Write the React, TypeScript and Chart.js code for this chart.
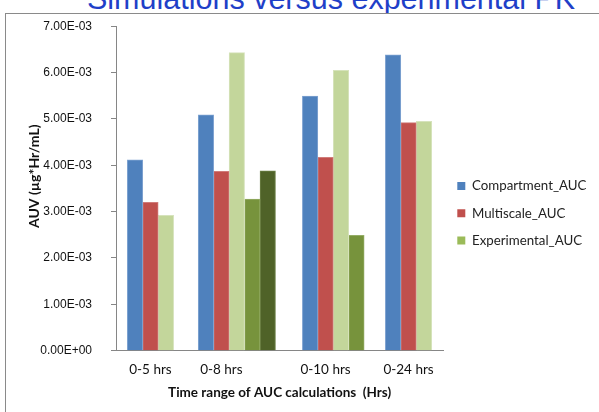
import React, { useEffect, useRef } from "react";
import { Chart, registerables } from "chart.js";

Chart.register(...registerables);

// ---- data ----
const categories = ["0-5 hrs", "0-8 hrs", "0-10 hrs", "0-24 hrs"];
const compartmentAUC = [4.12e-3, 5.09e-3, 5.49e-3, 6.38e-3];
const multiscaleAUC = [3.2e-3, 3.87e-3, 4.17e-3, 4.92e-3];
const experimentalAUC = [2.92e-3, 6.43e-3, 6.05e-3, 4.95e-3];
const experimentalExtraA = [null, 3.27e-3, 2.49e-3, null];
const experimentalExtraB = [null, 3.88e-3, null, null];
const seriesNames = ["Compartment_AUC", "Multiscale_AUC", "Experimental_AUC"];
const yMin = 0;
const yMax = 7e-3;
const yStep = 1e-3;

// ---- layout (bar slots along the category axis) ----
const groupOffsets = [0.73, 5.32, 12.06, 17.43];
const axisSlots = 21.18;

const barColors = ["#4F81BD", "#C0504D", "#C3D69B", "#77933C", "#4F6228"];
const barBorders = ["#7FA3D1", "#D07C7A", "#D6E3BC", "#95AD66", "#6E8248"];
const legendColors = ["#4F81BD", "#C0504D", "#9BBB59"];

function sci(v: number): string {
  if (Math.abs(v) < 1e-12) return "0.00E+00";
  let e = Math.floor(Math.log10(Math.abs(v)) + 1e-9);
  let s = (v / Math.pow(10, e)).toFixed(2);
  if (s === "10.00") {
    e += 1;
    s = (v / Math.pow(10, e)).toFixed(2);
  }
  return s + "E" + (e < 0 ? "-" : "+") + String(Math.abs(e)).padStart(2, "0");
}

function toPoints(values: (number | null)[], slot: number) {
  const pts: { x: number; y: number }[] = [];
  values.forEach((v, c) => {
    if (v !== null && v !== undefined) pts.push({ x: groupOffsets[c] + slot + 0.5, y: v });
  });
  return pts;
}

export default function App() {
  const canvasRef = useRef<HTMLCanvasElement | null>(null);

  useEffect(() => {
    if (!canvasRef.current) return;
    const series = [compartmentAUC, multiscaleAUC, experimentalAUC, experimentalExtraA, experimentalExtraB];
    const datasets = series.map((vals, s) => ({
      label: seriesNames[s] ?? "",
      data: toPoints(vals, s),
      backgroundColor: barColors[s],
      borderColor: barBorders[s],
      borderWidth: 1,
      grouped: false,
      barPercentage: 1,
      categoryPercentage: 1,
    }));

    const chart = new Chart(canvasRef.current, {
      type: "bar",
      data: { datasets } as any,
      options: {
        responsive: false,
        animation: false,
        events: [],
        layout: { padding: { left: 6, top: 23.5, right: 3, bottom: 9 } },
        plugins: {
          tooltip: { enabled: false },
          legend: {
            position: "right",
            align: "center",
            maxWidth: 152.7,
            labels: {
              boxWidth: 8,
              boxHeight: 8,
              padding: 14,
              color: "#222",
              font: { family: "Lato", size: 13.3 },
              generateLabels: (ch: any) => {
                const items = (Chart as any).defaults.plugins.legend.labels.generateLabels(ch);
                return items.slice(0, 3).map((it: any, i: number) => ({
                  ...it,
                  fillStyle: legendColors[i],
                  strokeStyle: legendColors[i],
                  lineWidth: 0,
                }));
              },
            },
          },
        },
        scales: {
          x: {
            type: "linear",
            min: 0,
            max: axisSlots,
            offset: false,
            grid: { display: true, drawOnChartArea: false, drawTicks: false, color: "#868686" },
            border: { display: true, color: "#868686", width: 1 },
            afterBuildTicks: (scale: any) => {
              scale.ticks = categories.map((_, i) => ({ value: groupOffsets[i] + 1.5 }));
            },
            afterFit: (scale: any) => {
              scale.height = 52.3;
            },
            ticks: {
              autoSkip: false,
              maxRotation: 0,
              padding: 11,
              color: "#111",
              font: { family: "Lato", size: 13.5 },
              callback: (_v: any, i: number) => categories[i],
            },
            title: {
              display: true,
              text: "Time range of AUC calculations  (Hrs)",
              color: "#111",
              font: { family: "Lato", size: 13.5, weight: "bold" },
              padding: { top: 4, bottom: 1.9 },
            },
          },
          y: {
            min: yMin,
            max: yMax,
            grid: { display: true, drawOnChartArea: false, drawTicks: true, tickLength: 5, color: "#868686" },
            border: { display: true, color: "#868686", width: 1 },
            afterFit: (scale: any) => {
              scale.width = 110;
            },
            ticks: {
              stepSize: yStep,
              padding: 19,
              color: "#111",
              font: { family: "Liberation Sans", size: 12 },
              callback: (v: any) => sci(Number(v)),
            },
            title: {
              display: true,
              text: "\u2002\u2002\u2002 AUV (µg*Hr/mL)",
              color: "#111",
              font: { family: "Lato", size: 14, weight: "bold" },
              padding: { top: 19.6, bottom: 2 },
            },
          },
        },
      } as any,
    });

    document.fonts?.ready.then(() => {
      try { chart.update(); } catch (e) {}
    });

    return () => chart.destroy();
  }, []);

  return (
    <div style={{ position: "absolute", left: 0, top: 0, width: 599, height: 412, overflow: "hidden", background: "#fff" }}>
      <div style={{ position: "absolute", left: 0, top: 0, width: 599, height: 13, overflow: "hidden" }}>
        <div
          style={{
            position: "absolute",
            left: 87,
            top: -16.6,
            whiteSpace: "nowrap",
            fontFamily: "'Liberation Sans', Arial, sans-serif",
            fontSize: 30.5,
            lineHeight: "30px",
            color: "#1F3FC8",
          }}
        >
          Simulations versus experimental PK
        </div>
      </div>
      <div
        style={{
          position: "absolute",
          left: 5,
          top: 13,
          width: 594,
          height: 399,
          borderLeft: "1px solid #8a8a8a",
          borderTop: "1px solid #8a8a8a",
        }}
      />
      <canvas ref={canvasRef} width={599} height={412} style={{ position: "absolute", left: 0, top: 0 }} />
    </div>
  );
}
